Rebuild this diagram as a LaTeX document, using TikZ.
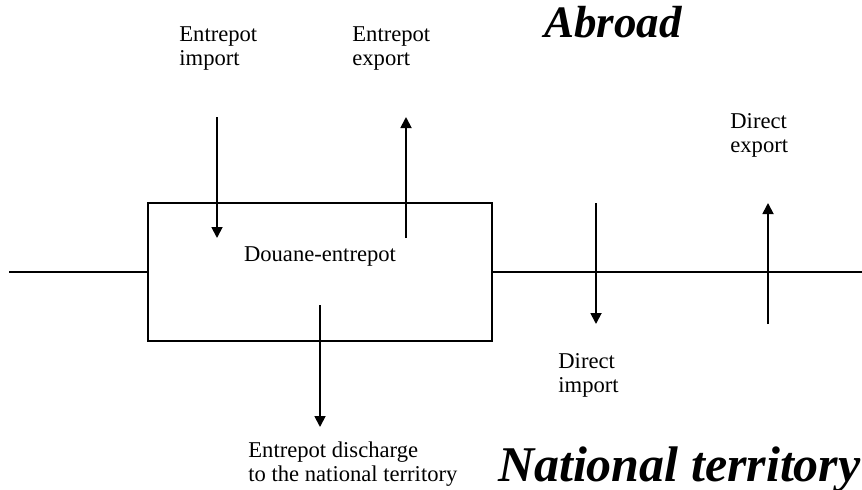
\documentclass[tikz,border=0pt]{standalone}
\usepackage{fontspec}
\setmainfont{Liberation Serif}
\usetikzlibrary{arrows.meta}
\tikzset{
  lbl/.style={inner sep=0pt, anchor=north west, align=left, font=\fontsize{11.3}{12}\selectfont},
  big/.style={inner sep=0pt, font=\fontsize{#1}{#1}\selectfont\bfseries\itshape},
  flow/.style={line width=0.9pt, -{Triangle[length=5.5pt,width=5.5pt]}},
  thin/.style={line width=0.55pt}
}
\begin{document}
\begin{tikzpicture}[x=0.5pt,y=-0.5pt]
\useasboundingbox (0,0) rectangle (862,489);
% box
\node (box) [draw, thin, minimum width=172pt, minimum height=69pt, inner sep=0pt] at (320,272) {};
\node (boxlbl) [inner sep=0pt, anchor=base, font=\fontsize{11.3}{12}\selectfont] at (320,261) {Douane-entrepot};
% border line
\coordinate (lft) at (9,272);
\coordinate (rgt) at (862,272);
\draw[thin] (lft) -- (box.west);
\draw[thin] (box.east) -- (rgt);
% labels
\node (eimp) [lbl] at (179,26) {Entrepot\\import};
\node (eexp) [lbl] at (352,26) {Entrepot\\export};
\node (dexp) [lbl] at (730,113) {Direct\\export};
\node (dimp) [lbl] at (558,353) {Direct\\import};
\node (disc) [lbl] at (248,441) {Entrepot discharge\\to the national territory};
\node (abroad) [big=22.5, anchor=base west] at (544,37) {Abroad};
\node (natl) [big=25, anchor=base east] at (861,481) {National territory};
% arrows
\coordinate (ei1) at (217,117); \coordinate (ei2) at (217,238);
\coordinate (ee1) at (406,238); \coordinate (ee2) at (406,117);
\coordinate (dc1) at (320,305); \coordinate (dc2) at (320,427);
\coordinate (di1) at (596,203); \coordinate (di2) at (596,324);
\coordinate (de1) at (768,324); \coordinate (de2) at (768,203);
\draw[flow] (ei1) -- (ei2);
\draw[flow] (ee1) -- (ee2);
\draw[flow] (dc1) -- (dc2);
\draw[flow] (di1) -- (di2);
\draw[flow] (de1) -- (de2);
\end{tikzpicture}
\end{document}
